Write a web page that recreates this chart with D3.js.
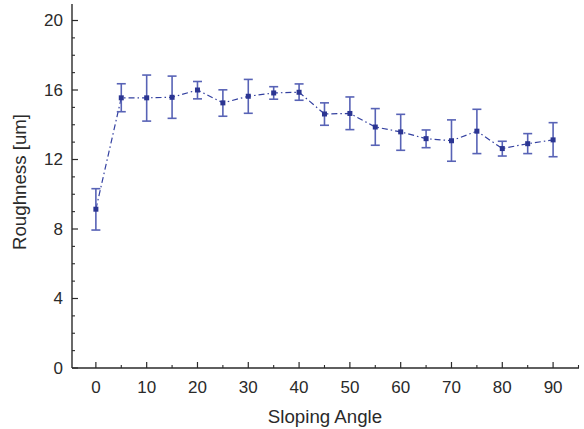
<!DOCTYPE html>
<html>
<head>
<meta charset="utf-8">
<script src="https://cdn.jsdelivr.net/npm/d3@7"></script>
<style>
  html, body { margin: 0; padding: 0; background: #fff; }
  svg { display: block; font-family: "Liberation Sans", Arial, Helvetica, sans-serif; }
</style>
</head>
<body>
<svg id="chart" width="584" height="429"></svg>
<script>
// Surface roughness measured at each sloping angle (mean and ± error)
const angles = [0, 5, 10, 15, 20, 25, 30, 35, 40, 45, 50, 55, 60, 65, 70, 75, 80, 85, 90];
const roughness = [9.14, 15.55, 15.55, 15.58, 16.0, 15.26, 15.64, 15.83, 15.87, 14.62, 14.65, 13.87, 13.59, 13.2, 13.08, 13.63, 12.63, 12.91, 13.13];
const errUpper = [1.18, 0.81, 1.31, 1.22, 0.49, 0.75, 0.97, 0.36, 0.48, 0.64, 0.95, 1.06, 1.01, 0.5, 1.2, 1.26, 0.42, 0.58, 0.99];
const errLower = [1.2, 0.8, 1.34, 1.21, 0.51, 0.77, 0.98, 0.36, 0.46, 0.65, 0.93, 1.05, 1.06, 0.52, 1.18, 1.29, 0.43, 0.57, 0.97];

const xTicks = [0, 10, 20, 30, 40, 50, 60, 70, 80, 90];
const xMinorTicks = [5, 15, 25, 35, 45, 55, 65, 75, 85, 95];
const yTicks = [0, 4, 8, 12, 16, 20];
const yMinorTicks = d3.range(0, 21).filter(v => v % 4 !== 0);

const xTitle = "Sloping Angle";
const yTitle = "Roughness [um]";

const svg = d3.select("#chart");
const plotLeft = 72, plotRight = 579, plotTop = 4, plotBottom = 368;

const x = d3.scaleLinear().domain([-4.7, 95.1]).range([plotLeft, plotRight]);
const y = d3.scaleLinear().domain([0, 20.95]).range([plotBottom, plotTop]);

const axisColor = "#2a2a2a";
const lineColor = "#3340a0";
const barColor = "#5863b6";
const markColor = "#2b3592";

// Axis lines
svg.append("line").attr("x1", plotLeft).attr("x2", plotLeft).attr("y1", plotTop).attr("y2", plotBottom)
  .attr("stroke", axisColor).attr("stroke-width", 1.4);
svg.append("line").attr("x1", plotLeft).attr("x2", plotRight).attr("y1", plotBottom).attr("y2", plotBottom)
  .attr("stroke", axisColor).attr("stroke-width", 1.4);

// Y ticks point inward (to the right)
const yAxis = svg.append("g");
yAxis.selectAll("line.major").data(yTicks).join("line").attr("class", "major")
  .attr("x1", plotLeft).attr("x2", plotLeft + 6)
  .attr("y1", d => y(d)).attr("y2", d => y(d))
  .attr("stroke", axisColor).attr("stroke-width", 1.2);
yAxis.selectAll("line.minor").data(yMinorTicks).join("line").attr("class", "minor")
  .attr("x1", plotLeft).attr("x2", plotLeft + 3)
  .attr("y1", d => y(d)).attr("y2", d => y(d))
  .attr("stroke", axisColor).attr("stroke-width", 1.1);
yAxis.selectAll("text").data(yTicks).join("text")
  .attr("x", plotLeft - 9).attr("y", d => y(d)).attr("dy", "0.35em")
  .attr("text-anchor", "end").attr("font-size", 17).attr("fill", axisColor)
  .text(d => d);

// X ticks point inward (upward)
const xAxis = svg.append("g");
xAxis.selectAll("line.major").data(xTicks).join("line").attr("class", "major")
  .attr("x1", d => x(d)).attr("x2", d => x(d))
  .attr("y1", plotBottom).attr("y2", plotBottom - 6)
  .attr("stroke", axisColor).attr("stroke-width", 1.2);
xAxis.selectAll("line.minor").data(xMinorTicks).join("line").attr("class", "minor")
  .attr("x1", d => x(d)).attr("x2", d => x(d))
  .attr("y1", plotBottom).attr("y2", plotBottom - 3)
  .attr("stroke", axisColor).attr("stroke-width", 1.1);
xAxis.selectAll("text").data(xTicks).join("text")
  .attr("x", d => x(d)).attr("y", 393)
  .attr("text-anchor", "middle").attr("font-size", 17).attr("fill", axisColor)
  .text(d => d);

// Axis titles
svg.append("text").attr("x", 325).attr("y", 423)
  .attr("text-anchor", "middle").attr("font-size", 18.7).attr("fill", axisColor)
  .text(xTitle);
svg.append("text").attr("transform", "translate(26,182) rotate(-90)")
  .attr("text-anchor", "middle").attr("font-size", 18.7).attr("fill", axisColor)
  .text(yTitle);

const data = angles.map((a, i) => ({ a, v: roughness[i], hi: roughness[i] + errUpper[i], lo: roughness[i] - errLower[i] }));

// Dash-dot connecting line
svg.append("path").datum(data)
  .attr("d", d3.line().x(d => x(d.a)).y(d => y(d.v)))
  .attr("fill", "none").attr("stroke", lineColor).attr("stroke-width", 1.2)
  .attr("stroke-dasharray", "6,3,1.5,3");

// Error bars
const eb = svg.append("g").attr("stroke", barColor).attr("stroke-width", 1.6);
eb.selectAll("line.v").data(data).join("line").attr("class", "v")
  .attr("x1", d => x(d.a)).attr("x2", d => x(d.a))
  .attr("y1", d => y(d.lo)).attr("y2", d => y(d.hi));
eb.selectAll("line.t").data(data).join("line").attr("class", "t")
  .attr("x1", d => x(d.a) - 4.5).attr("x2", d => x(d.a) + 4.5)
  .attr("y1", d => y(d.hi)).attr("y2", d => y(d.hi));
eb.selectAll("line.b").data(data).join("line").attr("class", "b")
  .attr("x1", d => x(d.a) - 4.5).attr("x2", d => x(d.a) + 4.5)
  .attr("y1", d => y(d.lo)).attr("y2", d => y(d.lo));

// Square markers
svg.append("g").selectAll("rect").data(data).join("rect")
  .attr("x", d => x(d.a) - 2.5).attr("y", d => y(d.v) - 2.5)
  .attr("width", 5).attr("height", 5)
  .attr("fill", markColor);
</script>
</body>
</html>
